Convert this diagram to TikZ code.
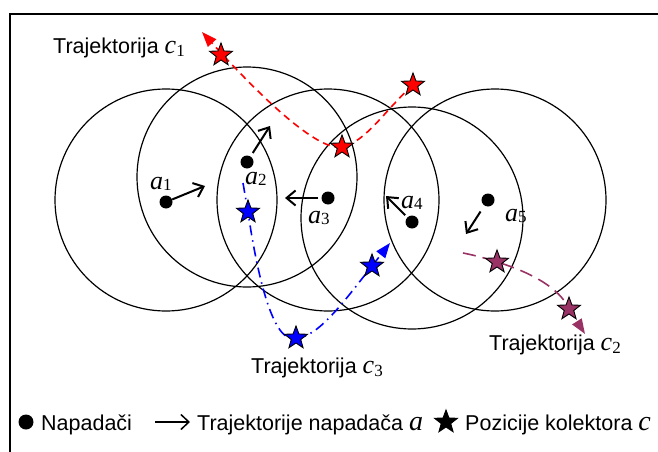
\documentclass[tikz,border=0pt]{standalone}
\usepackage{fontspec}
\setmainfont{Liberation Sans}
\newfontfamily\serifmath{Liberation Serif}
\usetikzlibrary{shapes.geometric,arrows.meta}

% italic variable with an upright subscript
\newcommand\mvar[2]{{\serifmath\fontsize{26}{26}\selectfont\itshape #1}\raisebox{-0.3ex}{\serifmath\fontsize{17}{17}\selectfont #2}}
\newcommand\mone[1]{{\serifmath\fontsize{28}{28}\selectfont\itshape #1}}

\definecolor{trajred}{RGB}{255,0,0}
\definecolor{trajblue}{RGB}{0,0,255}
\definecolor{trajplum}{RGB}{153,51,102}

\tikzset{
  frameline/.style={line width=2.5pt},
  zone/.style={line width=1.2pt},
  attacker/.style={circle, fill=black, minimum size=13pt, inner sep=0pt},
  collector/.style={star, star points=5, star point ratio=2.4, minimum size=24pt,
    inner sep=0pt, draw=black, line width=0.9pt},
  move/.style={line width=2pt, -{Straight Barb[length=9pt,width=15pt,line width=2pt]}},
  mlabel/.style={anchor=base west, inner sep=0pt},
  txt/.style={anchor=base west, inner sep=0pt, font=\fontsize{21.5}{24}\selectfont},
  trajtip/.style={-{Triangle[length=15pt,width=11pt]}},
  trajc1/.style={trajred, line width=1.6pt, dash pattern=on 7pt off 5pt, trajtip},
  trajc2/.style={trajplum, line width=1.6pt, dash pattern=on 13pt off 7pt, trajtip},
  trajc3/.style={trajblue, line width=1.6pt, dash pattern=on 10pt off 5pt on 1.5pt off 5pt, trajtip},
}

\begin{document}
\begin{tikzpicture}[x=1pt,y=-1pt]
\useasboundingbox (0,0) rectangle (658,452);

% outer frame (top and left edges)
\draw[frameline] (10,452) -- (10,14) -- (658,14);

% sensing ranges of the attackers
\draw[zone] (166,200) circle[radius=111];
\draw[zone] (247,177) circle[radius=110];
\draw[zone] (328,200) circle[radius=111];
\draw[zone] (412,218) circle[radius=111];
\draw[zone] (495,200) circle[radius=111];

% attackers
\node[attacker] (a1) at (166,202) {};
\node[attacker] (a2) at (247,162) {};
\node[attacker] (a3) at (328,198) {};
\node[attacker] (a4) at (412,222) {};
\node[attacker] (a5) at (488,200) {};

\node[mlabel] (la1) at (150,189) {\mvar{a}{1}};
\node[mlabel] (la2) at (245,184) {\mvar{a}{2}};
\node[mlabel] (la3) at (308,223) {\mvar{a}{3}};
\node[mlabel] (la4) at (401,208) {\mvar{a}{4}};
\node[mlabel] (la5) at (505,221) {\mvar{a}{5}};

% attacker movement
\coordinate (m1) at (205,186);
\coordinate (m2) at (270,126);
\coordinate (m3) at (285,198);
\coordinate (m4) at (386,196);
\coordinate (m5) at (466,234);
\draw[move] (a1) -- (m1);
\draw[move, shorten <=4pt] (a2) -- (m2);
\draw[move, shorten <=3pt] (a3) -- (m3);
\draw[move, shorten <=3pt] (a4) -- (m4);
\draw[move, shorten <=7pt] (a5) -- (m5);

% collector positions
\coordinate (r1) at (221,55);
\coordinate (r2) at (342,147);
\coordinate (r3) at (413,85);
\coordinate (b1) at (248,212);
\coordinate (b2) at (296,338);
\coordinate (b3) at (372,266);
\coordinate (p1) at (497,262);
\coordinate (p2) at (569,309);

% trajectory ends
\coordinate (c1end) at (202,32);
\coordinate (c3start) at (243,183);
\coordinate (c3end) at (390,243);
\coordinate (c2start) at (463,253);
\coordinate (c2end) at (585,334);

% collector trajectories
\draw[trajc1] (r3) .. controls (385,110) and (366,142) .. (r2)
  .. controls (315,152) and (250,85) .. (c1end);
\draw[trajc3] (c3start) -- (b1) .. controls (258,280) and (274,345) .. (b2)
  .. controls (318,338) and (345,300) .. (b3) -- (c3end);
\draw[trajc2] (c2start) .. controls (478,256) and (488,259) .. (p1)
  .. controls (530,272) and (560,288) .. (p2) -- (c2end);

\node[collector, fill=trajred] (s1) at (r1) {};
\node[collector, fill=trajred] (s2) at (r2) {};
\node[collector, fill=trajred] (s3) at (r3) {};
\node[collector, fill=trajblue] (s4) at (b1) {};
\node[collector, fill=trajblue] (s5) at (b2) {};
\node[collector, fill=trajblue] (s6) at (b3) {};
\node[collector, fill=trajplum] (s7) at (p1) {};
\node[collector, fill=trajplum] (s8) at (p2) {};

% trajectory labels
\node[txt] (t1) at (53,53) {Trajektorija \mvar{c}{1}};
\node[txt] (t3) at (251,373) {Trajektorija \mvar{c}{3}};
\node[txt] (t2) at (489,350) {Trajektorija \mvar{c}{2}};

% legend
\node[attacker, minimum size=15pt] (ldot) at (26,422) {};
\node[txt] (lt1) at (41,430) {Napadači};
\coordinate (la0) at (155,422);
\coordinate (la9) at (190,422);
\draw[line width=1.5pt, -{Straight Barb[length=8pt,width=15pt,line width=1.5pt]}] (la0) -- (la9);
\node[txt] (lt2) at (197,430) {Trajektorije napadača \mone{a}};
\node[collector, fill=black] (lstar) at (446,422) {};
\node[txt] (lt3) at (465,430) {Pozicije kolektora \mone{c}};
\end{tikzpicture}
\end{document}
